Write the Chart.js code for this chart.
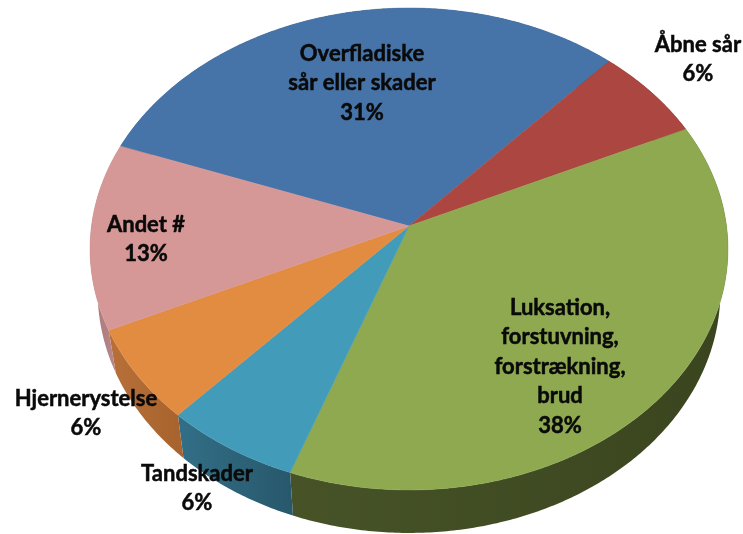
<!DOCTYPE html>
<html><head><meta charset="utf-8">
<style>html,body{margin:0;padding:0;background:#fff}canvas{display:block}</style>
<script src="https://cdn.jsdelivr.net/npm/chart.js@4"></script></head>
<body><canvas id="c" width="743" height="534"></canvas>
<script>
const categories = ["Overfladiske sår eller skader","Åbne sår","Luksation, forstuvning, forstrækning, brud","Tandskader","Hjernerystelse","Andet #"];
const shareValues = [31.2,6.3,37.5,6.3,6.3,12.5];
const faceColors = ["#4674a8","#ac4640","#8ea950","#419bb9","#e28c41","#d69896"];
const sideColorsA = ["#2d4a6e","#6e2c29","#475327","#326f87","#b8703a","#a9777a"];
const sideColorsB = ["#2d4a6e","#6e2c29","#3a451f","#28586c","#a8642e","#b98a8c"];
const labelLines = [["Overfladiske","sår eller skader","31%"],["Åbne sår","6%"],["Luksation,","forstuvning,","forstrækning,","brud","38%"],["Tandskader","6%"],["Hjernerystelse","6%"],["Andet #","13%"]];
const labelAnchors = [[362,54],[698,45],[560,308],[197,474],[86,399],[146,225]];
const labelLeading = 29.4;

const view = {cx:409, cy:226, a:217.2, c:-0.0954, k:317.5, sideDrop:43, sideShrink:0.976};
function project(ang, r){
  const u = r*Math.cos(ang), v = r*Math.sin(ang), w = 1+view.c*v;
  return [view.cx+view.k*u/w, (view.a*v+view.cy)/w];
}
function lower(p){ return [view.cx+(p[0]-view.cx)*view.sideShrink, p[1]+view.sideDrop]; }
function rim(a0,a1){
  const pts=[], n=Math.max(2,Math.ceil(Math.abs(a1-a0)/0.01));
  for(let i=0;i<=n;i++) pts.push(project(a0+(a1-a0)*i/n,1));
  return pts;
}
const perspectivePie = {
  id:'perspectivePie',
  beforeDatasetsDraw(chart){
    const ctx=chart.ctx, arcs=chart.getDatasetMeta(0).data;
    arcs.forEach((el,i)=>{
      const top=rim(el.startAngle,el.endAngle);
      const xs=top.map(p=>p[0]);
      const g=ctx.createLinearGradient(Math.min(...xs),0,Math.max(...xs),0);
      g.addColorStop(0,sideColorsA[i]); g.addColorStop(1,sideColorsB[i]);
      ctx.beginPath();
      top.forEach((p,j)=>j?ctx.lineTo(p[0],p[1]):ctx.moveTo(p[0],p[1]));
      top.slice().reverse().forEach(p=>{const q=lower(p);ctx.lineTo(q[0],q[1]);});
      ctx.closePath();
      ctx.fillStyle=g; ctx.fill();
    });
    arcs.forEach((el,i)=>{
      const top=rim(el.startAngle,el.endAngle), o=project(0,0);
      ctx.beginPath(); ctx.moveTo(o[0],o[1]);
      top.forEach(p=>ctx.lineTo(p[0],p[1]));
      ctx.closePath();
      ctx.fillStyle=faceColors[i]; ctx.fill();
      ctx.strokeStyle=faceColors[i]; ctx.lineWidth=0.5; ctx.stroke();
    });
    return false;
  },
  afterDraw(chart){
    const ctx=chart.ctx;
    ctx.save();
    ctx.font='bold 22px Lato, "Open Sans", sans-serif';
    ctx.fillStyle='#0a0a0a'; ctx.strokeStyle='#0a0a0a'; ctx.lineWidth=0.5;
    ctx.textAlign='center'; ctx.textBaseline='middle';
    labelLines.forEach((lines,i)=>lines.forEach((t,j)=>{
      const y=labelAnchors[i][1]+j*labelLeading;
      ctx.fillText(t,labelAnchors[i][0],y);
      ctx.strokeText(t,labelAnchors[i][0],y);
    }));
    ctx.restore();
  }
};
new Chart(document.getElementById('c'),{
  type:'pie',
  data:{labels:categories,datasets:[{data:shareValues,backgroundColor:faceColors,borderWidth:0}]},
  options:{responsive:false,animation:false,rotation:-69.8,
    plugins:{legend:{display:false},tooltip:{enabled:false}}},
  plugins:[perspectivePie]
});
</script></body></html>
